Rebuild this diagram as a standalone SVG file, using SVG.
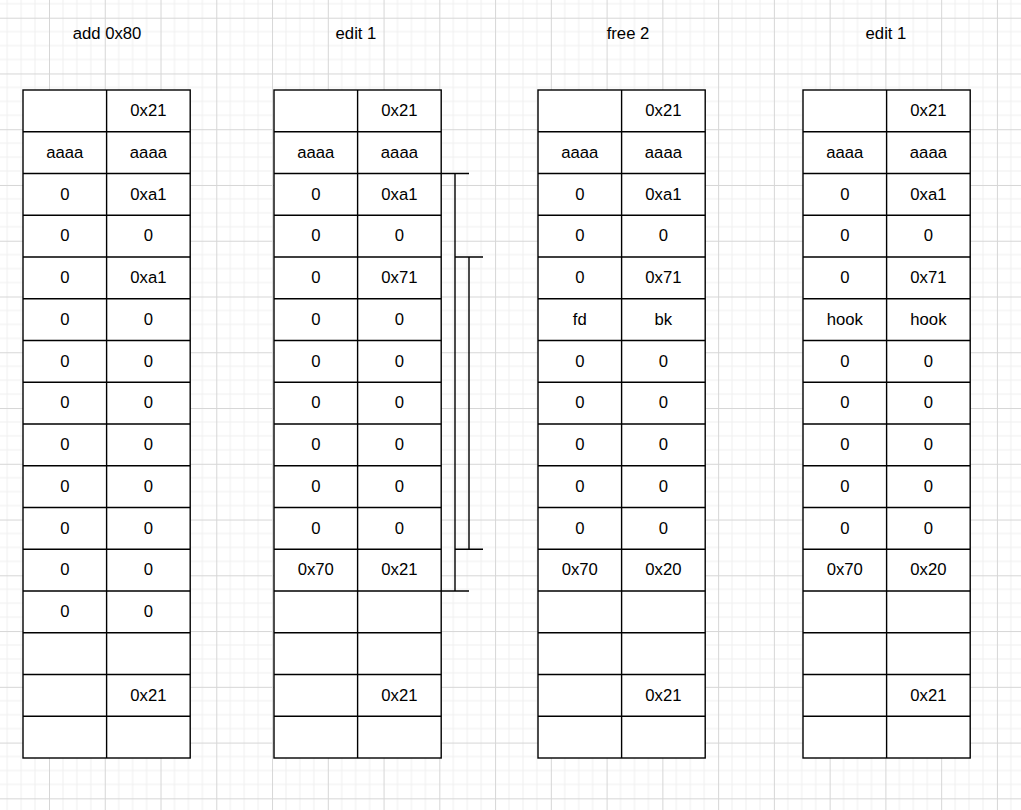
<svg xmlns="http://www.w3.org/2000/svg" xmlns:xlink="http://www.w3.org/1999/xlink" width="1021" height="810" viewBox="0 0 1021 810">
<style>
text{font-family:"Liberation Sans",Arial,sans-serif;font-size:16.7px;fill:#000;text-anchor:middle}
.ln{fill:none;stroke:#000;stroke-width:1.4}
</style>
<defs>
<pattern id="grid" width="55.76" height="55.76" patternUnits="userSpaceOnUse" x="49" y="17.7">
<path d="M13.94 0V55.76M27.88 0V55.76M41.82 0V55.76M0 13.94H55.76M0 27.88H55.76M0 41.82H55.76" fill="none" stroke="#f0f0f0" stroke-width="1"/>
<path d="M0.5 0V55.76M0 0.5H55.76" fill="none" stroke="#d6d6d6" stroke-width="1"/>
</pattern>
<g id="tbl">
<rect x="0" y="90" width="167.2" height="668" fill="#fff" stroke="#000" stroke-width="1.4"/>
<path class="ln" d="M83.6 90V758M0 131.75H167.2M0 173.5H167.2M0 215.25H167.2M0 257H167.2M0 298.75H167.2M0 340.5H167.2M0 382.25H167.2M0 424H167.2M0 465.75H167.2M0 507.5H167.2M0 549.25H167.2M0 591H167.2M0 632.75H167.2M0 674.5H167.2M0 716.25H167.2"/>
</g>
</defs>
<rect width="1021" height="810" fill="#fff"/>
<rect width="1021" height="810" fill="url(#grid)"/>

<g id="titles">
<text x="107" y="39">add 0x80</text>
<text x="356" y="39">edit 1</text>
<text x="628" y="39">free 2</text>
<text x="886" y="39">edit 1</text>
</g>

<g id="table1" transform="translate(23,-0.5)">
<use xlink:href="#tbl" transform="translate(0,0.5)"/>
<text x="125.4" y="116.7">0x21</text>
<text x="41.8" y="158.45">aaaa</text><text x="125.4" y="158.45">aaaa</text>
<text x="41.8" y="200.2">0</text><text x="125.4" y="200.2">0xa1</text>
<text x="41.8" y="241.95">0</text><text x="125.4" y="241.95">0</text>
<text x="41.8" y="283.7">0</text><text x="125.4" y="283.7">0xa1</text>
<text x="41.8" y="325.45">0</text><text x="125.4" y="325.45">0</text>
<text x="41.8" y="367.2">0</text><text x="125.4" y="367.2">0</text>
<text x="41.8" y="408.95">0</text><text x="125.4" y="408.95">0</text>
<text x="41.8" y="450.7">0</text><text x="125.4" y="450.7">0</text>
<text x="41.8" y="492.45">0</text><text x="125.4" y="492.45">0</text>
<text x="41.8" y="534.2">0</text><text x="125.4" y="534.2">0</text>
<text x="41.8" y="575.95">0</text><text x="125.4" y="575.95">0</text>
<text x="41.8" y="617.7">0</text><text x="125.4" y="617.7">0</text>
<text x="125.4" y="701.2">0x21</text>
</g>

<g id="table2" transform="translate(274,-0.5)">
<use xlink:href="#tbl" transform="translate(0,0.5)"/>
<text x="125.4" y="116.7">0x21</text>
<text x="41.8" y="158.45">aaaa</text><text x="125.4" y="158.45">aaaa</text>
<text x="41.8" y="200.2">0</text><text x="125.4" y="200.2">0xa1</text>
<text x="41.8" y="241.95">0</text><text x="125.4" y="241.95">0</text>
<text x="41.8" y="283.7">0</text><text x="125.4" y="283.7">0x71</text>
<text x="41.8" y="325.45">0</text><text x="125.4" y="325.45">0</text>
<text x="41.8" y="367.2">0</text><text x="125.4" y="367.2">0</text>
<text x="41.8" y="408.95">0</text><text x="125.4" y="408.95">0</text>
<text x="41.8" y="450.7">0</text><text x="125.4" y="450.7">0</text>
<text x="41.8" y="492.45">0</text><text x="125.4" y="492.45">0</text>
<text x="41.8" y="534.2">0</text><text x="125.4" y="534.2">0</text>
<text x="41.8" y="575.95">0x70</text><text x="125.4" y="575.95">0x21</text>
<text x="125.4" y="701.2">0x21</text>
</g>

<g id="table3" transform="translate(538,-0.5)">
<use xlink:href="#tbl" transform="translate(0,0.5)"/>
<text x="125.4" y="116.7">0x21</text>
<text x="41.8" y="158.45">aaaa</text><text x="125.4" y="158.45">aaaa</text>
<text x="41.8" y="200.2">0</text><text x="125.4" y="200.2">0xa1</text>
<text x="41.8" y="241.95">0</text><text x="125.4" y="241.95">0</text>
<text x="41.8" y="283.7">0</text><text x="125.4" y="283.7">0x71</text>
<text x="41.8" y="325.45">fd</text><text x="125.4" y="325.45">bk</text>
<text x="41.8" y="367.2">0</text><text x="125.4" y="367.2">0</text>
<text x="41.8" y="408.95">0</text><text x="125.4" y="408.95">0</text>
<text x="41.8" y="450.7">0</text><text x="125.4" y="450.7">0</text>
<text x="41.8" y="492.45">0</text><text x="125.4" y="492.45">0</text>
<text x="41.8" y="534.2">0</text><text x="125.4" y="534.2">0</text>
<text x="41.8" y="575.95">0x70</text><text x="125.4" y="575.95">0x20</text>
<text x="125.4" y="701.2">0x21</text>
</g>

<g id="table4" transform="translate(803,-0.5)">
<use xlink:href="#tbl" transform="translate(0,0.5)"/>
<text x="125.4" y="116.7">0x21</text>
<text x="41.8" y="158.45">aaaa</text><text x="125.4" y="158.45">aaaa</text>
<text x="41.8" y="200.2">0</text><text x="125.4" y="200.2">0xa1</text>
<text x="41.8" y="241.95">0</text><text x="125.4" y="241.95">0</text>
<text x="41.8" y="283.7">0</text><text x="125.4" y="283.7">0x71</text>
<text x="41.8" y="325.45">hook</text><text x="125.4" y="325.45">hook</text>
<text x="41.8" y="367.2">0</text><text x="125.4" y="367.2">0</text>
<text x="41.8" y="408.95">0</text><text x="125.4" y="408.95">0</text>
<text x="41.8" y="450.7">0</text><text x="125.4" y="450.7">0</text>
<text x="41.8" y="492.45">0</text><text x="125.4" y="492.45">0</text>
<text x="41.8" y="534.2">0</text><text x="125.4" y="534.2">0</text>
<text x="41.8" y="575.95">0x70</text><text x="125.4" y="575.95">0x20</text>
<text x="125.4" y="701.2">0x21</text>
</g>

<g id="connectors">
<path class="ln" d="M441.2 173.5H469M455 173.5V591M441.2 591H469"/>
<path class="ln" d="M455 257H483M469 257V549.25M455 549.25H483"/>
</g>
</svg>
